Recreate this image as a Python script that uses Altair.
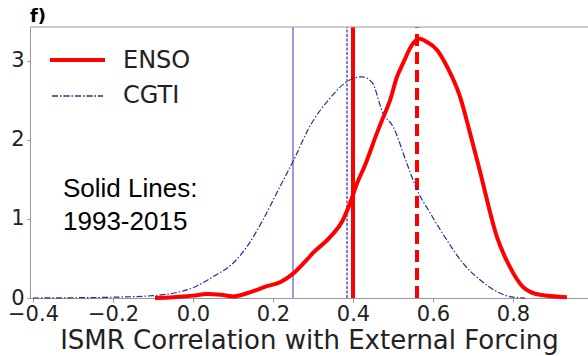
import altair as alt
import pandas as pd

# ENSO density (red, thick solid)
enso_x = [-0.095, -0.05, 0.0, 0.035, 0.07, 0.10, 0.135, 0.185, 0.2175, 0.255, 0.2875,
          0.30, 0.3425, 0.375, 0.3925, 0.41, 0.43, 0.46, 0.4725, 0.4925, 0.51, 0.525,
          0.55, 0.5675, 0.585, 0.61, 0.635, 0.6675, 0.6925, 0.7175, 0.76, 0.7925,
          0.825, 0.8675, 0.935]
enso_y = [0.0, 0.01, 0.03, 0.05, 0.04, 0.02, 0.06, 0.15, 0.2, 0.33, 0.5,
          0.57, 0.77, 0.99, 1.2, 1.45, 1.68, 2.09, 2.25, 2.5, 2.8, 2.97,
          3.22, 3.28, 3.24, 3.14, 2.93, 2.55, 2.09, 1.6, 0.77, 0.39,
          0.14, 0.04, 0.01]

# CGTI density (navy, thin dash-dot)
cgti_x = [-0.40, -0.30, -0.20, -0.10, -0.05, 0.0, 0.05, 0.10, 0.135, 0.175, 0.2175,
          0.255, 0.2875, 0.3425, 0.385, 0.4225, 0.4475, 0.475, 0.50, 0.535, 0.56,
          0.5925, 0.635, 0.675, 0.7175, 0.76, 0.80, 0.83]
cgti_y = [0.0, 0.003, 0.01, 0.03, 0.06, 0.13, 0.27, 0.44, 0.65, 0.99, 1.41,
          1.78, 2.13, 2.53, 2.74, 2.8, 2.73, 2.34, 2.17, 1.7, 1.37,
          1.08, 0.73, 0.44, 0.23, 0.08, 0.01, 0.0]

# vertical reference lines
vl_x = [0.25, 0.385, 0.40, 0.56]
vl_color = ["#7b7bd0", "#2b2b99", "#ff0000", "#ff0000"]
vl_width = [1.5, 1.2, 4, 4]
vl_dash = [[1, 0], [3, 1.5], [1, 0], [12, 6]]

legend_names = ["ENSO", "CGTI"]
x_ticks = [-0.4, -0.2, 0.0, 0.2, 0.4, 0.6, 0.8]
y_ticks = [0, 1, 2, 3]

W, H = 558, 271
xdom = [-0.4075, 0.9875]
ydom = [0, 3.43]

xs = alt.Scale(domain=xdom, nice=False, zero=False)
ys = alt.Scale(domain=ydom, nice=False)

enso = pd.DataFrame({"x": enso_x, "y": enso_y})
cgti = pd.DataFrame({"x": cgti_x, "y": cgti_y})

xaxis = alt.Axis(values=x_ticks, format=".1f", title="ISMR Correlation with External Forcing",
                 labelFontSize=21, titleFontSize=26, labelFont="DejaVu Sans", titleFont="DejaVu Sans",
                 titleFontWeight="normal", labelColor="#222222", titleColor="#222222",
                 domainColor="#999999", tickColor="#999999", tickSize=4, labelPadding=1,
                 titlePadding=3, grid=False, labelFlush=False)
yaxis = alt.Axis(values=y_ticks, format="d", title=None, labelFontSize=21, labelFont="DejaVu Sans",
                 labelColor="#222222", domainColor="#999999", tickColor="#999999", tickSize=3,
                 labelPadding=3, grid=False)

layers = []
# vertical lines
for xv, c, w, d in zip(vl_x, vl_color, vl_width, vl_dash):
    df = pd.DataFrame({"x": [xv], "y0": [ydom[0]], "y1": [ydom[1]]})
    layers.append(alt.Chart(df).mark_rule(color=c, strokeWidth=w, strokeDash=d).encode(
        x=alt.X("x:Q", scale=xs, axis=xaxis),
        y=alt.Y("y0:Q", scale=ys, axis=yaxis),
        y2="y1:Q"))

cg = alt.Chart(cgti).mark_line(color="#2b2b99", strokeWidth=1.2, strokeDash=[6, 2, 1.5, 2],
                               interpolate="monotone").encode(
    x=alt.X("x:Q", scale=xs, axis=xaxis), y=alt.Y("y:Q", scale=ys, axis=yaxis))
en = alt.Chart(enso).mark_line(color="#ff0000", strokeWidth=4, interpolate="monotone").encode(
    x=alt.X("x:Q", scale=xs, axis=xaxis), y=alt.Y("y:Q", scale=ys, axis=yaxis))
layers += [cg, en]

# top border
top = alt.Chart(pd.DataFrame({"a": [0]})).mark_rule(color="#999999", strokeWidth=1).encode(
    x=alt.value(0), x2=alt.value(W), y=alt.value(0))
layers.append(top)

# legend
leg = pd.DataFrame({"name": legend_names})
l1 = alt.Chart(leg).mark_rule(color="#ff0000", strokeWidth=4).encode(
    x=alt.value(20), x2=alt.value(75), y=alt.value(33))
l2 = alt.Chart(leg).mark_rule(color="#2b2b99", strokeWidth=1.2, strokeDash=[6, 2, 1.5, 2]).encode(
    x=alt.value(22), x2=alt.value(73), y=alt.value(69))
t1 = alt.Chart(pd.DataFrame({"t": [legend_names[0]]})).mark_text(
    align="left", baseline="middle", font="DejaVu Sans", fontSize=24, color="#222222").encode(
    x=alt.value(93), y=alt.value(34), text="t:N")
t2 = alt.Chart(pd.DataFrame({"t": [legend_names[1]]})).mark_text(
    align="left", baseline="middle", font="DejaVu Sans", fontSize=24, color="#222222").encode(
    x=alt.value(93), y=alt.value(69), text="t:N")
layers += [l1, l2, t1, t2]

# annotation
ann = alt.Chart(pd.DataFrame({"t": ["Solid Lines:", "1993-2015"], "yy": [170, 203]})).mark_text(
    align="left", baseline="alphabetic", font="Liberation Sans", fontSize=26, color="#000000").encode(
    x=alt.value(33), y=alt.Y("yy:Q", scale=None), text="t:N")
layers.append(ann)

lab = alt.Chart(pd.DataFrame({"t": ["f)"]})).mark_text(
    align="left", baseline="alphabetic", font="DejaVu Sans", fontSize=18, fontWeight="bold",
    color="#000000").encode(x=alt.value(0), y=alt.value(-5), text="t:N")
layers.append(lab)

chart = alt.layer(*layers).properties(
    width=W, height=H,
    autosize=alt.AutoSizeParams(type="none"),
    padding={"left": 30, "top": 27, "right": 0, "bottom": 58},
    background="white",
).configure_view(stroke=None)

chart.save("out.html", embed_options={"renderer": "svg", "actions": False})
